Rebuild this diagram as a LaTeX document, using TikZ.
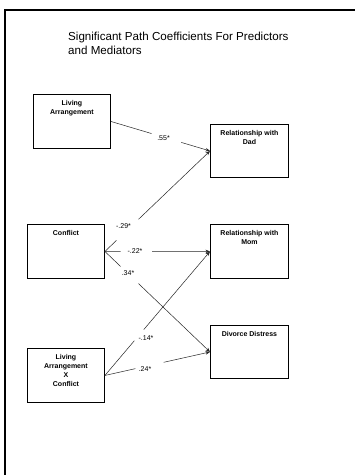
\documentclass[tikz,border=0pt]{standalone}
\usepackage{fontspec}
\setmainfont{Liberation Sans}
\usetikzlibrary{arrows.meta,calc}
\tikzset{
  box/.style={draw=black, line width=0.9pt, inner sep=0pt, anchor=north west},
  conn/.style={draw=black!85, line width=0.5pt},
  arr/.style={conn, -{Stealth[length=4.5pt,width=3.5pt]}},
  coef/.style={inner sep=0pt, font=\fontsize{7}{8}\selectfont}
}
\newcommand{\boxtext}[3]{\parbox[c][#2pt][t]{#1pt}{\centering\fontsize{7}{9.2}\selectfont\bfseries\vspace*{5.5pt}#3\par}}
\begin{document}
\begin{tikzpicture}[x=1pt,y=-1pt]
\useasboundingbox (0,0) rectangle (355,475);
\fill[white] (0,0) rectangle (355,475);
% frame
\draw[line width=2.2pt] (360,10) -- (5,10) -- (5,480);
% title
\node[anchor=north west, inner sep=0pt, align=left, font=\fontsize{11.6}{14}\selectfont] (title) at (68,31.5)
  {Significant Path Coefficients For Predictors\\and Mediators};
% boxes
\node[box] (la)  at (33,94)   {\boxtext{77}{54}{Living\\Arrangement}};
\node[box] (dad) at (210,124) {\boxtext{78}{53}{Relationship with\\Dad}};
\node[box] (con) at (27,224)  {\boxtext{77}{54}{Conflict}};
\node[box] (mom) at (210,224) {\boxtext{78}{54}{Relationship with\\Mom}};
\node[box] (div) at (210,325) {\boxtext{78}{53}{Divorce Distress}};
\node[box] (lax) at (27,348)  {\boxtext{77}{54}{Living\\Arrangement\\X\\Conflict}};
% coefficients
\node[coef] (c55) at (163.5,138) {.55*};
\node[coef] (c29) at (123.5,226.5) {-.29*};
\node[coef] (c22) at (135,251.5) {-.22*};
\node[coef] (c34) at (128,273) {.34*};
\node[coef] (c14) at (146,338) {-.14*};
\node[coef] (c24) at (145,369) {.24*};
% connectors (broken around the coefficients)
\draw[conn] (la.east) -- ($(la.east)!0.41!(dad.west)$);
\draw[arr] ($(la.east)!0.71!(dad.west)$) -- (dad.west);
\draw[conn] (con.east) -- ($(con.east)!0.11!(dad.west)$);
\draw[arr] ($(con.east)!0.32!(dad.west)$) -- (dad.west);
\draw[conn] (con.east) -- ($(con.east)!0.15!(mom.west)$);
\draw[arr] ($(con.east)!0.45!(mom.west)$) -- (mom.west);
\draw[conn] (con.east) -- ($(con.east)!0.15!(div.west)$);
\draw[arr] ($(con.east)!0.32!(div.west)$) -- (div.west);
\draw[conn] (lax.east) -- ($(lax.east)!0.28!(mom.west)$);
\draw[arr] ($(lax.east)!0.37!(mom.west)$) -- (mom.west);
\draw[conn] (lax.east) -- ($(lax.east)!0.29!(div.west)$);
\draw[arr] ($(lax.east)!0.56!(div.west)$) -- (div.west);
\end{tikzpicture}
\end{document}
